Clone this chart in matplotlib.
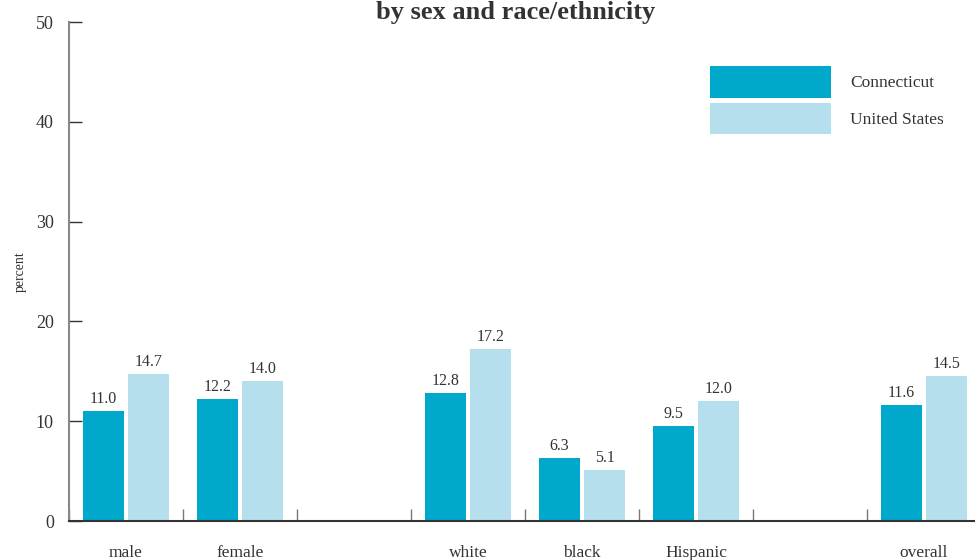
import matplotlib.pyplot as plt
import numpy as np

plt.rcParams['font.family'] = ['Liberation Serif', 'DejaVu Serif']

# blank names leave an empty slot between the groups
categories = ['male', 'female', '', 'white', 'black', 'Hispanic', '', 'overall']
connecticut = [11.0, 12.2, np.nan, 12.8, 6.3, 9.5, np.nan, 11.6]
united_states = [14.7, 14.0, np.nan, 17.2, 5.1, 12.0, np.nan, 14.5]
series_names = ['Connecticut', 'United States']
yticks = [0, 10, 20, 30, 40, 50]

ct_color = '#00a8cc'
us_color = '#b5dfec'
text_color = '#333333'

fig = plt.figure(figsize=(9.75, 5.6), dpi=100)
ax = fig.add_axes([0.0708, 0.0696, 0.9354, 0.8911])

x = np.arange(len(categories)) + 0.5
w = 0.36
gap = 0.035
b1 = ax.bar(x - gap / 2 - w / 2, connecticut, w, color=ct_color, label=series_names[0])
b2 = ax.bar(x + gap / 2 + w / 2, united_states, w, color=us_color, label=series_names[1])

for bars, vals in ((b1, connecticut), (b2, united_states)):
    for bar, v in zip(bars, vals):
        if np.isnan(v):
            continue
        ax.annotate(f'{v:.1f}', (bar.get_x() + bar.get_width() / 2, v),
                    xytext=(0, 3), textcoords='offset points',
                    ha='center', va='bottom', fontsize=11.5, color=text_color)

ax.set_xlim(0, len(categories))
ax.set_ylim(0, 50)
ax.set_yticks(yticks)
ax.tick_params(axis='y', direction='in', length=9.5, width=1, color=text_color,
               labelsize=13, labelcolor=text_color, pad=11)

ax.set_xticks(x)
ax.set_xticklabels(categories)
ax.tick_params(axis='x', which='major', length=0, labelsize=12.5,
               labelcolor=text_color, pad=17)
ax.set_xticks(np.arange(len(categories) + 1), minor=True)
ax.tick_params(axis='x', which='minor', direction='in', length=9, width=1,
               color='#777777')

for side in ('top', 'right'):
    ax.spines[side].set_visible(False)
ax.spines['left'].set_color('#888888')
ax.spines['left'].set_linewidth(1.5)
ax.spines['bottom'].set_color(text_color)
ax.spines['bottom'].set_linewidth(1.5)

ax.set_ylabel('percent', fontsize=10, color=text_color)
ax.yaxis.set_label_coords(-0.046, 0.5)

fig.text(0.529, 0.998, 'by sex and race/ethnicity', ha='center', va='top',
         fontsize=19, fontweight='bold', color=text_color)

ax.legend(loc='upper left', bbox_to_anchor=(0.695, 0.925), frameon=False,
          fontsize=12.5, handlelength=7.0, handleheight=2.4, handletextpad=1.1,
          labelspacing=0.3, labelcolor=text_color, borderaxespad=0)

fig.savefig('out.png', dpi=100)
